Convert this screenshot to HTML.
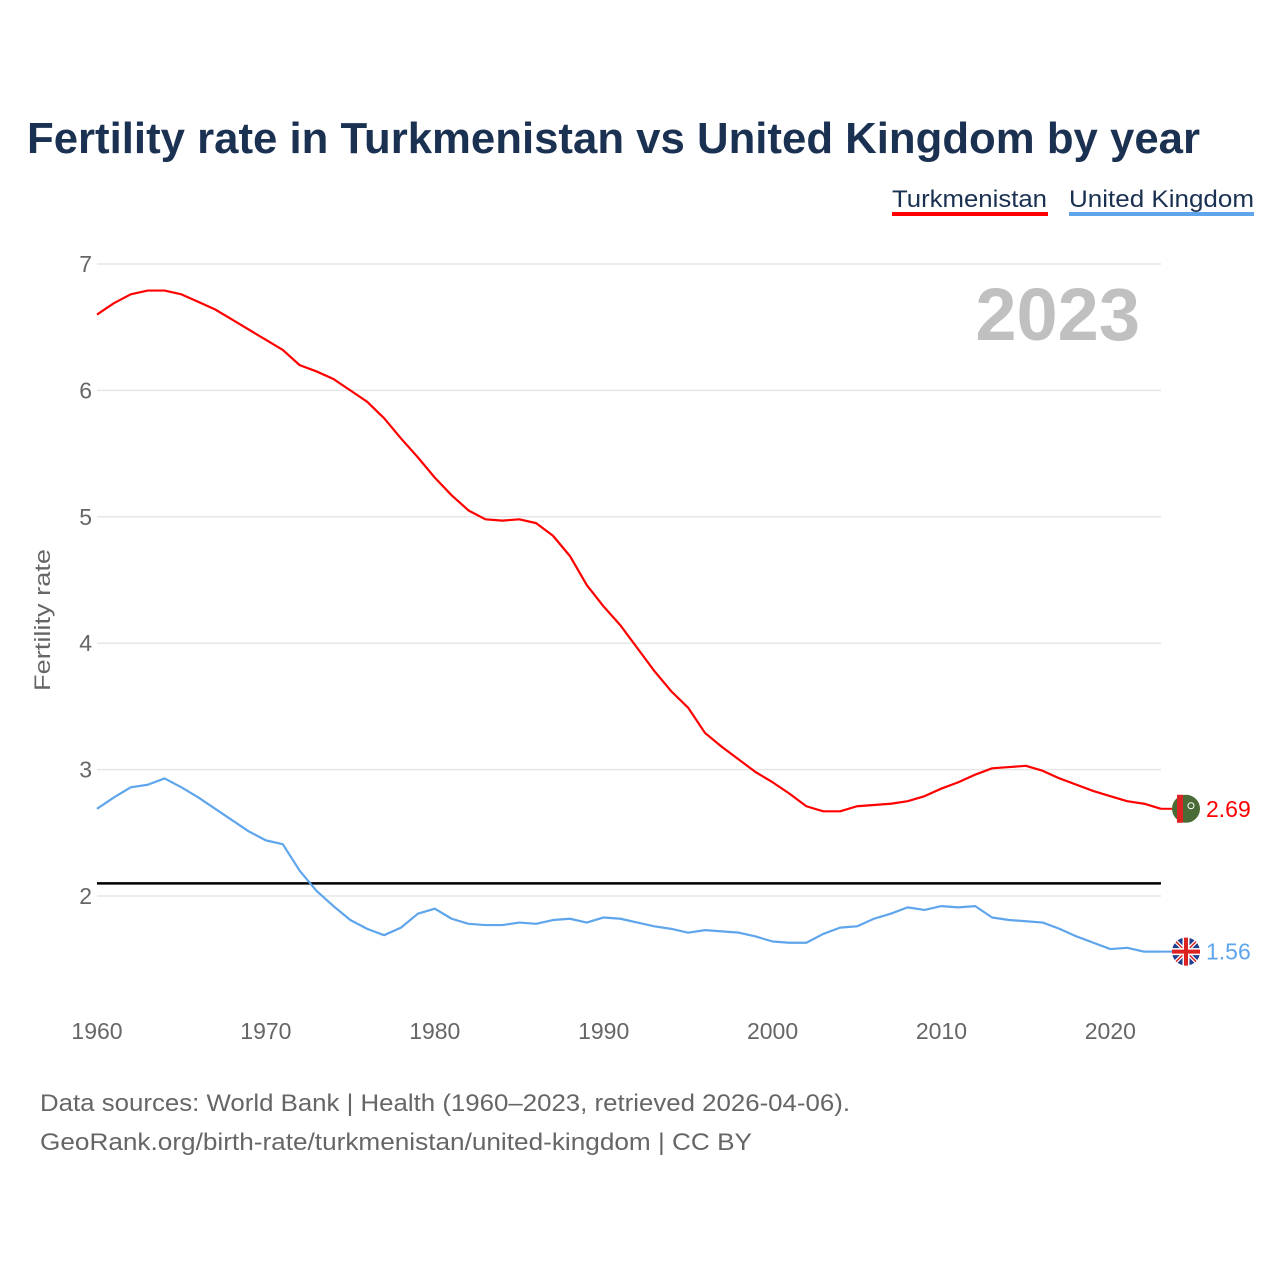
<!DOCTYPE html>
<html><head><meta charset="utf-8"><style>
body{margin:0;background:#fff;font-family:"Liberation Sans",sans-serif}
svg text{font-family:"Liberation Sans",sans-serif}
</style></head><body>
<svg id="c" width="1280" height="1280" viewBox="0 0 1280 1280">
<rect width="1280" height="1280" fill="#fff"/>
<text x="27" y="153" font-size="44" font-weight="bold" fill="#1b3152" textLength="1173" lengthAdjust="spacingAndGlyphs">Fertility rate in Turkmenistan vs United Kingdom by year</text>
<g><text x="892" y="207" font-size="24" fill="#1b3152" textLength="155" lengthAdjust="spacingAndGlyphs">Turkmenistan</text><rect x="892" y="212" width="156" height="4" fill="#f00"/></g>
<g><text x="1069" y="207" font-size="24" fill="#1b3152" textLength="185" lengthAdjust="spacingAndGlyphs">United Kingdom</text><rect x="1069" y="212" width="185" height="4" fill="#5ea5ec"/></g>
<text x="1140" y="340" text-anchor="end" font-size="74" font-weight="bold" fill="#c0c0c0">2023</text>
<text transform="translate(50,620) rotate(-90)" text-anchor="middle" font-size="22" fill="#666" textLength="142" lengthAdjust="spacingAndGlyphs">Fertility rate</text>
<g id="grid"></g><g id="marks"></g>
<text x="40" y="1111" font-size="24" fill="#666" textLength="810" lengthAdjust="spacingAndGlyphs">Data sources: World Bank | Health (1960–2023, retrieved 2026-04-06).</text>
<text x="40" y="1150" font-size="24" fill="#666" textLength="712" lengthAdjust="spacingAndGlyphs">GeoRank.org/birth-rate/turkmenistan/united-kingdom | CC BY</text>
</svg>
<script>
const years=[];for(let y=1960;y<=2023;y++)years.push(y);
const turkmenistan=[6.6,6.69,6.76,6.79,6.79,6.76,6.70,6.64,6.56,6.48,6.40,6.32,6.20,6.15,6.09,6.00,5.91,5.78,5.62,5.47,5.31,5.17,5.05,4.98,4.97,4.98,4.95,4.85,4.69,4.46,4.29,4.14,3.96,3.78,3.62,3.49,3.29,3.18,3.08,2.98,2.90,2.81,2.71,2.67,2.67,2.71,2.72,2.73,2.75,2.79,2.85,2.90,2.96,3.01,3.02,3.03,2.99,2.93,2.88,2.83,2.79,2.75,2.73,2.69];
const unitedKingdom=[2.69,2.78,2.86,2.88,2.93,2.86,2.78,2.69,2.60,2.51,2.44,2.41,2.20,2.04,1.92,1.81,1.74,1.69,1.75,1.86,1.90,1.82,1.78,1.77,1.77,1.79,1.78,1.81,1.82,1.79,1.83,1.82,1.79,1.76,1.74,1.71,1.73,1.72,1.71,1.68,1.64,1.63,1.63,1.70,1.75,1.76,1.82,1.86,1.91,1.89,1.92,1.91,1.92,1.83,1.81,1.80,1.79,1.74,1.68,1.63,1.58,1.59,1.56,1.56];
const yTicks=[2,3,4,5,6,7];
const xTicks=[1960,1970,1980,1990,2000,2010,2020];
const replacementRate=2.1;
const NS="http://www.w3.org/2000/svg";
const X=y=>97+(y-1960)*(1161-97)/63;
const Y=v=>896-(v-2)*126.4;
const grid=document.getElementById('grid'),marks=document.getElementById('marks');
function mk(tag,attrs,parent){const e=document.createElementNS(NS,tag);for(const k in attrs)e.setAttribute(k,attrs[k]);parent.appendChild(e);return e;}
yTicks.forEach(t=>{
 const l=mk('line',{x1:97,x2:1161,y1:Y(t),y2:Y(t),stroke:'#e6e6e6','stroke-width':1.5},grid);
 
 
 const tx=mk('text',{x:92,y:Y(t)+8,'text-anchor':'end','font-size':23,fill:'#666'},grid);tx.textContent=t;
 
 
});
xTicks.forEach(t=>{
 const tx=mk('text',{x:X(t),y:1039,'text-anchor':'middle','font-size':23,fill:'#666'},grid);tx.textContent=t;
 
 
});
const rl=mk('line',{x1:97,x2:1161,y1:Y(replacementRate),y2:Y(replacementRate),stroke:'#000','stroke-width':2.5},marks);


function series(vals,color,name){
 const p=mk('polyline',{points:vals.map((v,i)=>X(years[i])+','+Y(v)).join(' '),fill:'none',stroke:color,'stroke-width':2.2,'stroke-linejoin':'round'},marks);
 
 
 const last=vals[vals.length-1];
 mk('line',{x1:1161,x2:1172,y1:Y(last),y2:Y(last),stroke:color,'stroke-width':2},marks);
 return last;
}
const t=series(turkmenistan,'#ff0000','turkmenistan');
const u=series(unitedKingdom,'#5ea5ec','united-kingdom');
const g1=mk('g',{},marks);


mk('circle',{cx:1186,cy:Y(t),r:14,fill:'#4a6b35'},g1);
mk('rect',{x:1177,y:Y(t)-14,width:6,height:28,fill:'#d22'},g1);
mk('circle',{cx:1191,cy:Y(t)-3,r:3,fill:'none',stroke:'#fff','stroke-width':1},g1);
const tl=mk('text',{x:1206,y:Y(t)+8,'font-size':23,fill:'#ff0000'},marks);tl.textContent=t.toFixed(2);


const g2=mk('g',{},marks);


const cy=Y(u);
mk('circle',{cx:1186,cy:cy,r:14,fill:'#1f3d8f'},g2);
mk('line',{x1:1176,y1:cy-10,x2:1196,y2:cy+10,stroke:'#fff','stroke-width':4},g2);
mk('line',{x1:1196,y1:cy-10,x2:1176,y2:cy+10,stroke:'#fff','stroke-width':4},g2);
mk('line',{x1:1176,y1:cy-10,x2:1196,y2:cy+10,stroke:'#d22','stroke-width':1.5},g2);
mk('line',{x1:1196,y1:cy-10,x2:1176,y2:cy+10,stroke:'#d22','stroke-width':1.5},g2);
mk('rect',{x:1172,y:cy-3.5,width:28,height:7,fill:'#fff'},g2);
mk('rect',{x:1182.5,y:cy-14,width:7,height:28,fill:'#fff'},g2);
mk('rect',{x:1172,y:cy-2,width:28,height:4,fill:'#d22'},g2);
mk('rect',{x:1184,y:cy-14,width:4,height:28,fill:'#d22'},g2);
const ul=mk('text',{x:1206,y:cy+8,'font-size':23,fill:'#5ea5ec'},marks);ul.textContent=u.toFixed(2);


</script>
</body></html>
